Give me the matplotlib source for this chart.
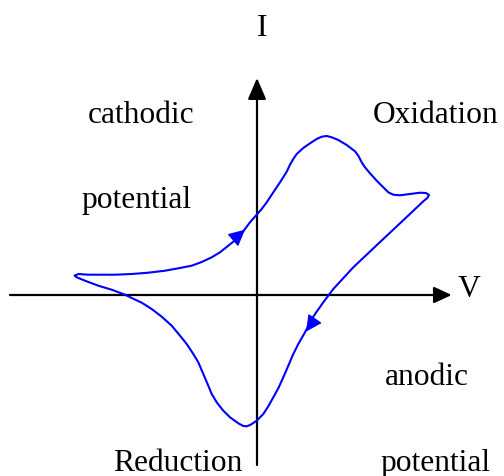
import matplotlib
matplotlib.use("Agg")
import matplotlib.pyplot as plt
from matplotlib.patches import FancyArrowPatch

# cyclic voltammogram loop (V right, I up)
cv_v = [-182, -178.7, -168.7, -158.7, -142, -125.3, -108.7, -92, -78.7, -65.3,
        -55.3, -45.3, -37, -28.7, -18, -12, -7, -0.3, 4.7, 9.7, 14.7, 19.7,
        24.7, 29.7, 33, 36.3, 39.7, 46.3, 53, 59.7, 64.7, 69.7, 74.7, 81.3, 89.7,
        98, 101.3, 104.7, 108, 113, 119.7, 126.3, 131.3, 136.3, 143, 153, 163,
        169, 172, 170.3, 166.3, 153, 136.3, 119.7, 96.3, 76.3, 66.3, 59.7, 54.7,
        48, 41.3, 36.3, 31.3, 26.3, 21.3, 16.3, 11.3, 6.3, -0.3, -6.3, -10.3,
        -13.7, -18.7, -27, -33.7, -40.3, -45.3, -48.7, -53.7, -58.7, -63.7,
        -70.3, -77, -85.3, -95.3, -105.3, -115.3, -125.3, -132, -145.3, -158.7,
        -172, -180.3, -182]
cv_i = [19.3, 21, 20.3, 20.3, 20.3, 21, 22.3, 24.3, 26.7, 29.3,
        33, 37.7, 42.7, 49.3, 58, 66, 72.7, 80.3, 86, 92.7, 100.3, 107.7,
        115.3, 123.3, 130.3, 136, 141, 147, 151.7, 156, 158.3, 159, 157.7, 155, 150,
        143.7, 139.3, 132.7, 127.7, 121.7, 114.3, 107.7, 102.7, 100.3, 99.7, 101, 102.3,
        102, 100, 97, 93.7, 81.1, 65.4, 49.8, 27.7, 6, -7.3, -16.7, -24,
        -37.3, -49, -59, -70.7, -82.3, -93.3, -102.3, -111.3, -119, -125.7, -129.7, -131.3,
        -131, -128.3, -122.3, -115.7, -107.3, -99, -90.7, -79, -67.3, -59,
        -49, -40.7, -30.7, -21.7, -14, -7.7, -3, 0.3, 5.3, 9.3,
        14.3, 17.7, 19.3]

# scan direction arrows: (base, tip)
scan_arrows = [((-22.7, 56), (-12, 65.3)), ((57, -25), (49, -36.7))]

labels = ["cathodic", "Oxidation", "potential", "anodic", "Reduction", "potential"]
label_pos = [(-169, 173), (116, 173), (-176, 88), (128, -89), (-144, -175), (123, -175)]

plt.rcParams['font.family'] = ['Liberation Serif', 'DejaVu Serif']

fig = plt.figure(figsize=(5.04, 4.77), dpi=100)
ax = fig.add_axes([0, 0, 1, 1])
ax.set_xlim(-257, 247)
ax.set_ylim(-181, 296)
ax.axis('off')

# axes with arrow heads
ax.add_patch(FancyArrowPatch((-247, 0), (194.7, 0), arrowstyle='-|>,head_length=10.8,head_width=5',
                             mutation_scale=1, lw=1.6, color='black', shrinkA=0, shrinkB=0))
ax.add_patch(FancyArrowPatch((0, -170), (0, 217), arrowstyle='-|>,head_length=13,head_width=5.6',
                             mutation_scale=1, lw=1.6, color='black', shrinkA=0, shrinkB=0))

ax.plot(cv_v, cv_i, color='#0000ff', lw=1.5, solid_joinstyle='round')
for base, tip in scan_arrows:
    ax.add_patch(FancyArrowPatch(base, tip, arrowstyle='-|>,head_length=10,head_width=5',
                                 mutation_scale=1, lw=1, color='#0000ff', shrinkA=0, shrinkB=0))

for txt, (x, y) in zip(labels, label_pos):
    ax.text(x, y, txt, fontsize=22.7, ha='left', va='baseline')
ax.text(4.7, 260, "I", fontsize=22.7, ha='center', va='baseline')
ax.text(200.3, -1.3, "V", fontsize=22.7, ha='left', va='baseline')

fig.savefig("out.png", dpi=100)
